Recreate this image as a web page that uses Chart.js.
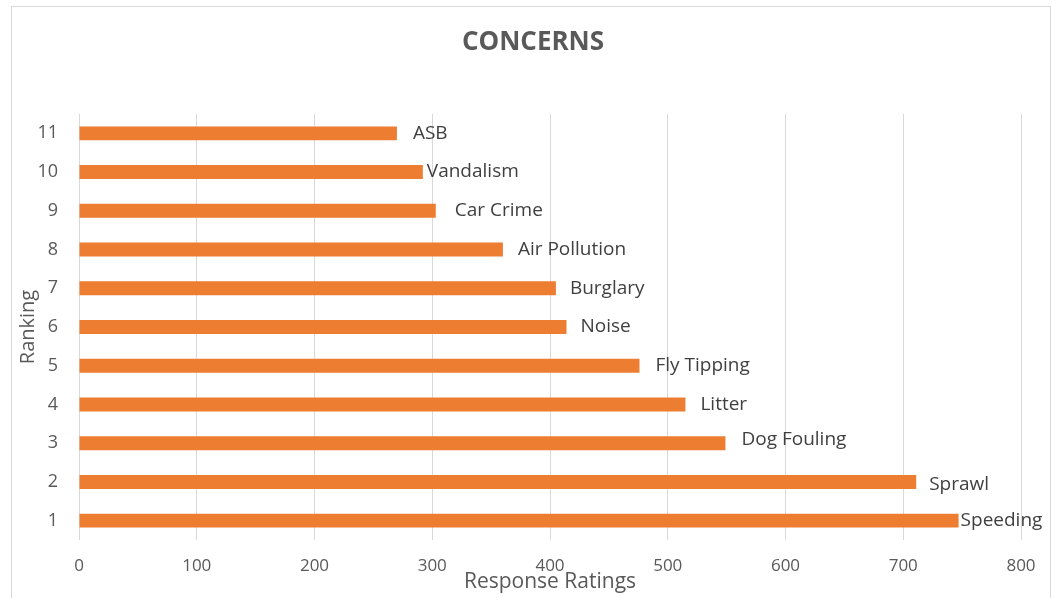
<!DOCTYPE html>
<html>
<head>
<meta charset="utf-8">
<script src="https://cdn.jsdelivr.net/npm/chart.js@4"></script>
<style>
  body { margin: 0; background: #fff; }
  .wrap { position: relative; width: 1052px; height: 598px; }
  .frame { position: absolute; left: 11px; top: 6px; width: 1040px; height: 600px;
           border: 1px solid #d9d9d9; box-sizing: border-box; pointer-events: none; }
  canvas { position: absolute; left: 0; top: 0; }
</style>
</head>
<body>
<div class="wrap">
  <canvas id="concernsChart" width="1052" height="598"></canvas>
  <div class="frame"></div>
</div>
<script>
// Ranking on the y axis, 1 = biggest concern
const ranks = ["1", "2", "3", "4", "5", "6", "7", "8", "9", "10", "11"];
const concerns = ["Speeding", "Sprawl", "Dog Fouling", "Litter", "Fly Tipping", "Noise",
  "Burglary", "Air Pollution", "Car Crime", "Vandalism", "ASB"];
const ratings = [747, 711, 549, 515, 476, 414, 405, 360, 303, 292, 270];
const xTicks = [0, 100, 200, 300, 400, 500, 600, 700, 800];

// hand nudges for the bar-end labels, like the original layout
const labelGap = [2, 13, 16, 15, 16, 14, 14, 15, 19, 4, 16];
const labelLift = [0, 3, -4, 0, 0, 0, 0, 0, 0, 0, 0];

const grey = "#595959";
const font = "'Open Sans', sans-serif";

const barLabels = {
  id: "barLabels",
  afterDatasetsDraw(chart) {
    const ctx = chart.ctx;
    const meta = chart.getDatasetMeta(0);
    ctx.save();
    ctx.font = "19px " + font;
    ctx.fillStyle = "#404040";
    ctx.textBaseline = "middle";
    ctx.textAlign = "left";
    meta.data.forEach((bar, i) => {
      ctx.fillText(concerns[i], bar.x + labelGap[i], bar.y + labelLift[i]);
    });
    ctx.restore();
  }
};

// title sits a bit right of the canvas centre in the original
const chartTitle = {
  id: "chartTitle",
  afterDraw(chart) {
    const ctx = chart.ctx;
    ctx.save();
    ctx.font = "bold 26px " + font;
    ctx.fillStyle = grey;
    ctx.textAlign = "center";
    ctx.textBaseline = "middle";
    ctx.fillText("CONCERNS", 533, 43);
    ctx.restore();
  }
};

new Chart(document.getElementById("concernsChart"), {
  type: "bar",
  data: {
    labels: ranks,
    datasets: [{
      label: "Response Ratings",
      data: ratings,
      backgroundColor: "#ED7D31",
      barPercentage: 0.36,
      categoryPercentage: 1
    }]
  },
  options: {
    indexAxis: "y",
    responsive: false,
    animation: false,
    layout: { padding: { left: 14, right: 31, top: 114, bottom: 0 } },
    plugins: {
      legend: { display: false },
      tooltip: { enabled: false },
      title: { display: false }
    },
    scales: {
      x: {
        min: 0,
        max: 800,
        afterBuildTicks: (axis) => { axis.ticks = xTicks.map(v => ({ value: v })); },
        grid: { color: "#d9d9d9", drawTicks: false },
        border: { display: false },
        ticks: { color: grey, font: { family: font, size: 17 }, padding: 16 },
        title: {
          display: true,
          text: "Response Ratings",
          color: grey,
          font: { family: font, size: 21 },
          padding: { top: 0, bottom: 3 }
        },
        afterFit: (axis) => { axis.height = 58; }
      },
      y: {
        reverse: true,
        grid: { display: false },
        border: { display: false },
        ticks: { color: grey, font: { family: font, size: 18 }, padding: 13 },
        title: {
          display: true,
          text: "Ranking",
          color: grey,
          font: { family: font, size: 20 },
          padding: { top: 2, bottom: 0 }
        },
        afterFit: (axis) => { axis.width = 65; }
      }
    }
  },
  plugins: [barLabels, chartTitle]
});
</script>
</body>
</html>
